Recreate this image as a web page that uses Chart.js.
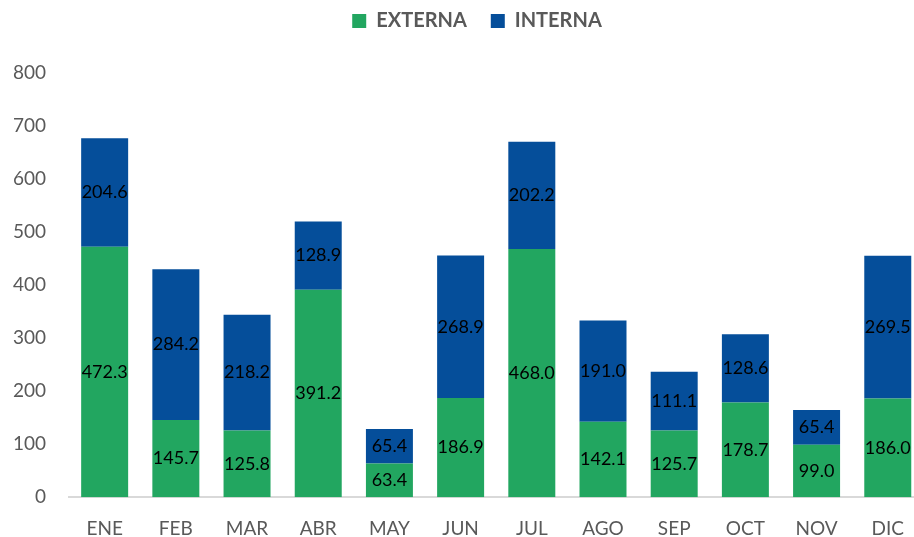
<!DOCTYPE html>
<html>
<head>
<meta charset="utf-8">
<script src="https://cdn.jsdelivr.net/npm/chart.js@4.4.0/dist/chart.umd.min.js"></script>
<style>
  html, body { margin: 0; padding: 0; background: #fff; overflow: hidden; }
  #wrap { width: 924px; height: 537px; }
</style>
</head>
<body>
<div id="wrap"><canvas id="chart"></canvas></div>
<script>
// Data
const months = ['ENE', 'FEB', 'MAR', 'ABR', 'MAY', 'JUN', 'JUL', 'AGO', 'SEP', 'OCT', 'NOV', 'DIC'];
const externa = [472.3, 145.7, 125.8, 391.2, 63.4, 186.9, 468.0, 142.1, 125.7, 178.7, 99.0, 186.0];
const interna = [204.6, 284.2, 218.2, 128.9, 65.4, 268.9, 202.2, 191.0, 111.1, 128.6, 65.4, 269.5];

const FONT = 'Lato, "Open Sans", sans-serif';
const GREY = '#595959';

// labels drawn in the middle of every segment
const barLabels = {
    id: 'barLabels',
    afterDatasetsDraw(chart) {
        const ctx = chart.ctx;
        ctx.save();
        ctx.font = '18px ' + FONT;
        ctx.fillStyle = '#000';
        ctx.textAlign = 'center';
        ctx.textBaseline = 'middle';
        chart.data.datasets.forEach((ds, i) => {
            chart.getDatasetMeta(i).data.forEach((bar, j) => {
                const mid = (bar.y + bar.base) / 2;
                ctx.fillText(ds.data[j].toFixed(1), bar.x, mid);
            });
        });
        ctx.restore();
    }
};

// extra room under the legend, and move it a bit to the right
const legendSpace = {
    id: 'legendSpace',
    beforeLayout(chart) {
        const lg = chart.legend;
        if (lg && !lg._patched) {
            const fit = lg.fit;
            lg.fit = function () { fit.call(this); this.height += 32; };
            lg._patched = true;
        }
    },
    afterLayout(chart) {
        chart.legend.left += 20;
        chart.legend.right += 20;
    }
};

new Chart(document.getElementById('chart'), {
    type: 'bar',
    data: {
        labels: months,
        datasets: [
            { label: 'EXTERNA', data: externa, backgroundColor: '#22A660', categoryPercentage: 0.66, barPercentage: 1 },
            { label: 'INTERNA', data: interna, backgroundColor: '#054E9A', categoryPercentage: 0.66, barPercentage: 1 }
        ]
    },
    options: {
        responsive: true,
        maintainAspectRatio: false,
        animation: false,
        layout: { padding: { left: -10, right: 0, top: -13, bottom: -23 } },
        plugins: {
            legend: {
                position: 'top',
                labels: {
                    boxWidth: 14, boxHeight: 14, padding: 24,
                    color: GREY,
                    font: { family: FONT, size: 20, weight: 'bold' }
                }
            },
            tooltip: { enabled: false }
        },
        scales: {
            x: {
                stacked: true,
                grid: { display: false, drawTicks: false },
                border: { color: '#d9d9d9', width: 2 },
                ticks: { color: GREY, font: { family: FONT, size: 19 }, padding: 20 }
            },
            y: {
                stacked: true,
                min: 0, max: 800,
                grid: { display: false, drawTicks: false },
                border: { display: false },
                ticks: { stepSize: 100, color: GREY, font: { family: FONT, size: 19 }, padding: 23 }
            }
        }
    },
    plugins: [barLabels, legendSpace]
});
</script>
</body>
</html>
